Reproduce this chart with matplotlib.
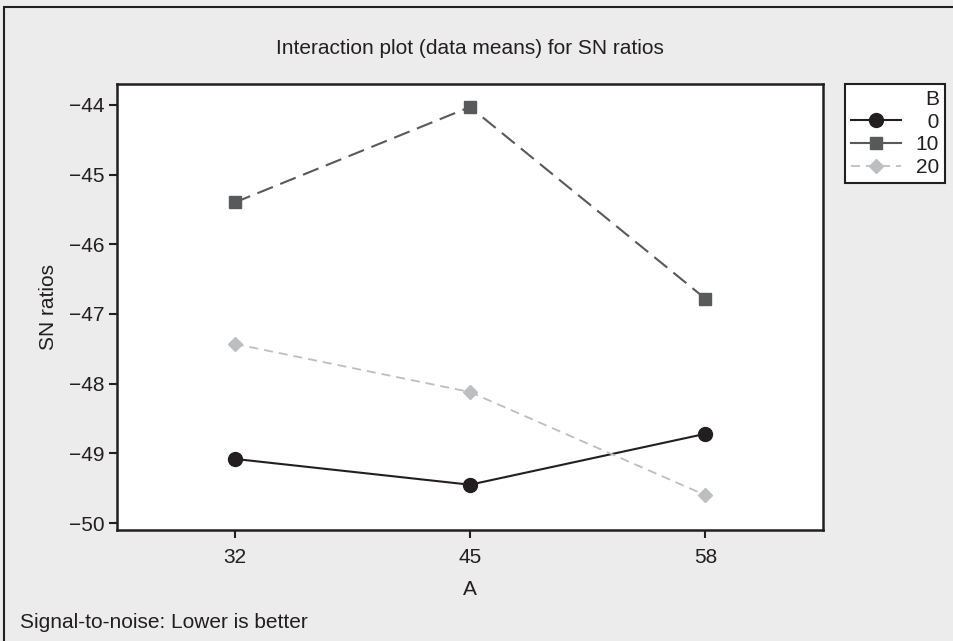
import matplotlib
matplotlib.use("Agg")
import matplotlib.pyplot as plt
from matplotlib.patches import Rectangle

plt.rcParams['font.family'] = ['Liberation Sans', 'DejaVu Sans']

# Factor levels and mean SN ratios
a_levels = ["32", "45", "58"]
b_levels = ["0", "10", "20"]
sn_b0 = [-49.08, -49.45, -48.72]
sn_b10 = [-45.40, -44.03, -46.78]
sn_b20 = [-47.43, -48.12, -49.60]
y_ticks = [-44, -45, -46, -47, -48, -49, -50]

FS = 15
INK = "#231f20"

series = [sn_b0, sn_b10, sn_b20]
styles = [
    dict(color=INK, ls="-", marker="o", ms=10, lw=1.5),
    dict(color="#58595b", ls=(0, (8, 3.8)), marker="s", ms=8.5, lw=1.5),
    dict(color="#bcbec0", ls=(0, (5.0, 3.3)), marker="D", ms=7.5, lw=1.3),
]

W, H = 954, 641
fig = plt.figure(figsize=(W / 100, H / 100), dpi=100, facecolor="#ececec")

# outer frame (runs off the right and bottom edges)
fig.patches.append(Rectangle((4 / W, -0.2), 1.2, 1.2 - 7 / H, transform=fig.transFigure,
                             fill=False, edgecolor=INK, lw=1.5))

ax = fig.add_axes([117 / W, 1 - 530 / H, (823 - 117) / W, (530 - 84) / H])
ax.set_facecolor("white")

x = list(range(1, len(a_levels) + 1))
handles = []
for vals, lab, st in zip(series, b_levels, styles):
    h, = ax.plot(x, vals, label=lab, color=st["color"], linestyle=st["ls"], lw=st["lw"],
                 marker=st["marker"], markersize=st["ms"], markerfacecolor=st["color"],
                 markeredgecolor=st["color"])
    handles.append(h)

ax.set_xlim(0.5, 3.5)
ax.set_ylim(-50.1, -43.7)
ax.set_xticks(x)
ax.set_xticklabels(a_levels)
ax.set_yticks(y_ticks)
ax.set_yticklabels([f"\u2212{abs(v)}" for v in y_ticks])
ax.tick_params(axis="both", direction="out", length=6, width=1.5, labelsize=FS,
               colors=INK)
ax.tick_params(axis="y", pad=3)
ax.tick_params(axis="x", pad=7)
for sp in ax.spines.values():
    sp.set_linewidth(1.8)
    sp.set_color(INK)

ax.set_xlabel("A", fontsize=FS, color=INK, labelpad=9)
ax.set_ylabel("SN ratios", fontsize=FS, color=INK, labelpad=8)

fig.text(470 / W, 1 - 48 / H, "Interaction plot (data means) for SN ratios",
         ha="center", va="center", fontsize=FS, color=INK)
fig.text(20 / W, 1 - 622 / H, "Signal-to-noise: Lower is better",
         ha="left", va="center", fontsize=FS, color=INK)

# legend labels padded with figure spaces so the numbers line up on the right
width = max(len(s) for s in b_levels)
leg_labels = ["\u2007" * (width - len(s)) + s for s in b_levels]
leg = ax.legend(handles, leg_labels, title="B", loc="upper left",
                bbox_to_anchor=(845 / W, 1 - 84 / H),
                bbox_transform=fig.transFigure, frameon=True, fancybox=False,
                edgecolor=INK, facecolor="white", framealpha=1,
                fontsize=FS, title_fontsize=FS,
                handlelength=2.4, handletextpad=0.7, borderpad=0.3,
                labelspacing=0.17, alignment="right", borderaxespad=0)
leg.get_frame().set_linewidth(1.5)
leg.get_lines()[1].set_linestyle("-")
for t in leg.get_texts():
    t.set_color(INK)
leg.get_title().set_color(INK)

fig.savefig("out.png", dpi=100, facecolor=fig.get_facecolor())
